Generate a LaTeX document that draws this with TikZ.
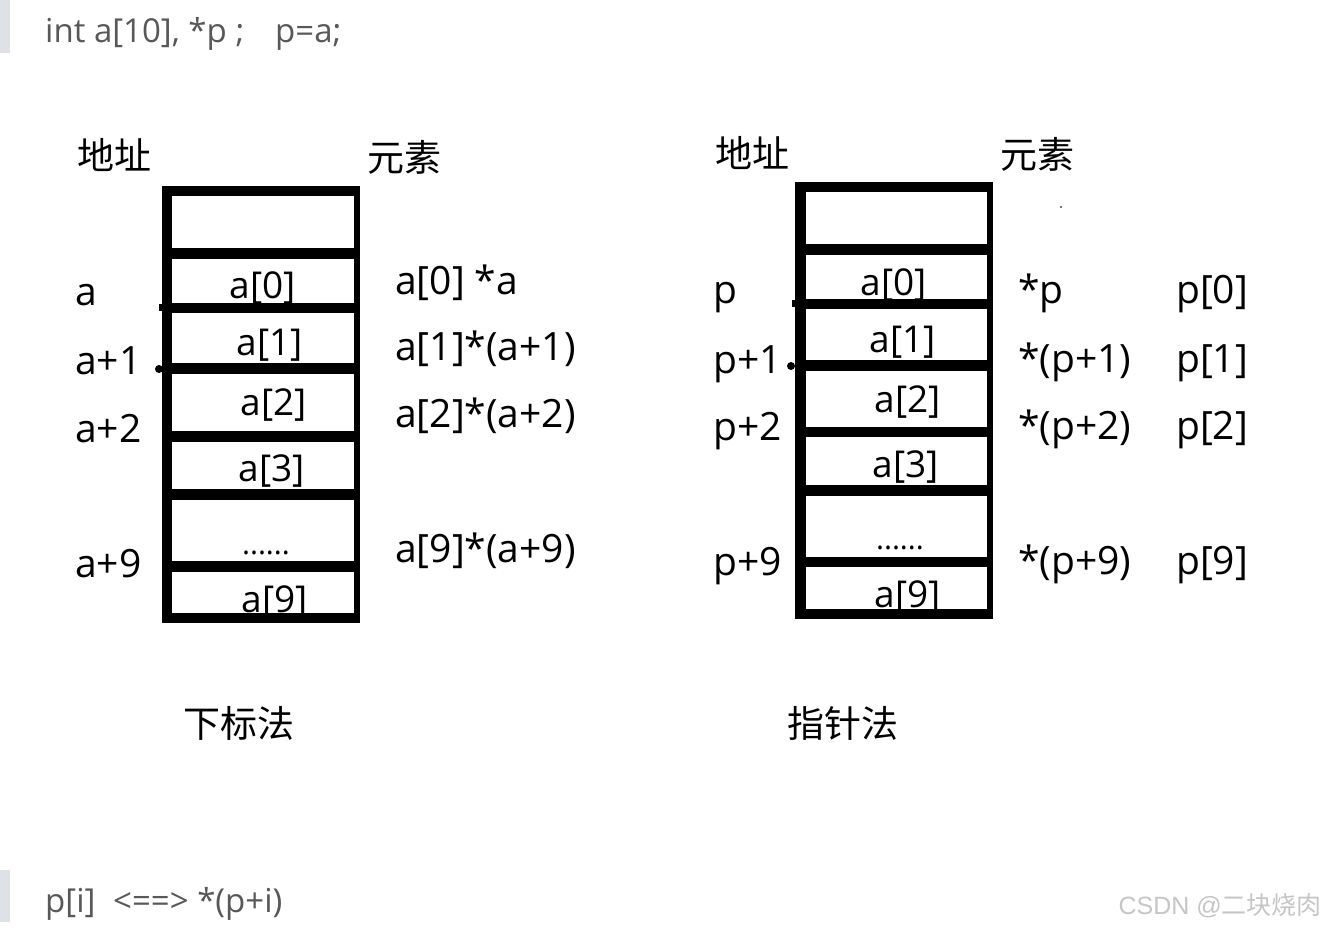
\documentclass[tikz,border=0pt]{standalone}
\usepackage{fontspec}
\setmainfont{Open Sans}
\newfontfamily\cjk{Noto Sans CJK SC}
\newfontfamily\wmfont{Liberation Sans}
\definecolor{codegray}{RGB}{88,88,88}
\definecolor{bargray}{RGB}{222,225,229}
\definecolor{wmgray}{RGB}{198,198,198}
\begin{document}
\begin{tikzpicture}[x=1pt,y=-1pt,
  lbl/.style={anchor=base west, inner sep=0pt, font=\fontsize{39}{39}\selectfont},
  cell/.style={anchor=base, inner sep=0pt, font=\fontsize{37}{37}\selectfont},
  dots/.style={anchor=base, inner sep=0pt, font=\fontsize{30}{30}\selectfont},
  zh/.style={anchor=base west, inner sep=0pt, font=\cjk\fontsize{37}{37}\selectfont},
  code/.style={anchor=base west, inner sep=0pt, text=codegray, font=\fontsize{33}{33}\selectfont},
  ink/.style={fill=black}]
\useasboundingbox (0,0) rectangle (1326,927);
\fill[white] (0,0) rectangle (1326,927);
% side bars of the quotes
\fill[bargray] (0,0) rectangle (10,53);
\fill[bargray] (0,870) rectangle (10,922);
\node[code] (code1) at (45,42) {int a[10], *p ;};
\node[code] (code2) at (275,42) {p=a;};
\node[code] (eq1) at (45,912) {p[i]};
\node[code] (eq2) at (113,912) {<==> *(p+i)};
\node[anchor=base east, inner sep=0pt, text=wmgray, font=\wmfont\fontsize{25}{25}\selectfont] (wm) at (1322,914) {CSDN @{\cjk 二块烧肉}};

% ---------- left: subscript method ----------
\node[zh] (addrL) at (77,169) {地址};
\node[zh] (elemL) at (367,171) {元素};
\node[zh] (methL) at (183,737) {下标法};
\node[cell] (la0) at (263,298) {a[0]};
\node[cell] (la1) at (270,355) {a[1]};
\node[cell] (la2) at (274,415) {a[2]};
\node[cell] (la3) at (272,481) {a[3]};
\node[dots] (ldots) at (266,554) {......};
\node[cell] (la9) at (275,612) {a[9]};
\node[lbl] (adA) at (75,305) {a};
\node[lbl] (adA1) at (75,374) {a+1};
\node[lbl] (adA2) at (75,442) {a+2};
\node[lbl] (adA9) at (75,577) {a+9};
\node[lbl] (elA0) at (395,294) {a[0] *a};
\node[lbl] (elA1) at (395,360) {a[1]*(a+1)};
\node[lbl] (elA2) at (395,427) {a[2]*(a+2)};
\node[lbl] (elA9) at (395,562) {a[9]*(a+9)};
% box
\fill[ink] (162,186) rectangle (172,623);
\fill[ink] (354,186) rectangle (360,623);
\foreach \t/\b in {186/196,248/259,303/313,363/374,431/442,489/500,561/572,613/623}
  \fill[ink] (162,\t) rectangle (360,\b);
\fill[ink] (159,304) rectangle (162,311);
\fill[ink] (159,369) circle (4);

% ---------- right: pointer method ----------
\node[zh] (addrR) at (715,167) {地址};
\node[zh] (elemR) at (1000,168) {元素};
\node[zh] (methR) at (787,737) {指针法};
\node[cell] (ra0) at (894,295) {a[0]};
\node[cell] (ra1) at (903,352) {a[1]};
\node[cell] (ra2) at (908,412) {a[2]};
\node[cell] (ra3) at (906,477) {a[3]};
\node[dots] (rdots) at (900,549) {......};
\node[cell] (ra9) at (908,607) {a[9]};
\node[lbl] (adP) at (713,303) {p};
\node[lbl] (adP1) at (713,373) {p+1};
\node[lbl] (adP2) at (713,440) {p+2};
\node[lbl] (adP9) at (713,575) {p+9};
\node[lbl] (stP) at (1018,303) {*p};
\node[lbl] (stP1) at (1018,372) {*(p+1)};
\node[lbl] (stP2) at (1018,439) {*(p+2)};
\node[lbl] (stP9) at (1018,574) {*(p+9)};
\node[lbl] (sbP0) at (1176,303) {p[0]};
\node[lbl] (sbP1) at (1176,372) {p[1]};
\node[lbl] (sbP2) at (1176,439) {p[2]};
\node[lbl] (sbP9) at (1176,574) {p[9]};
% box
\fill[ink] (795,182) rectangle (806,619);
\fill[ink] (987,182) rectangle (993,619);
\foreach \t/\b in {182/192,244/255,299/309,360/371,427/437,485/496,557/567,609/619}
  \fill[ink] (795,\t) rectangle (993,\b);
\fill[ink] (792,300) rectangle (795,307);
\fill[ink] (791,366) circle (4);
% stray speck
\fill[black!70] (1061,207) circle (1.2);
\end{tikzpicture}
\end{document}
